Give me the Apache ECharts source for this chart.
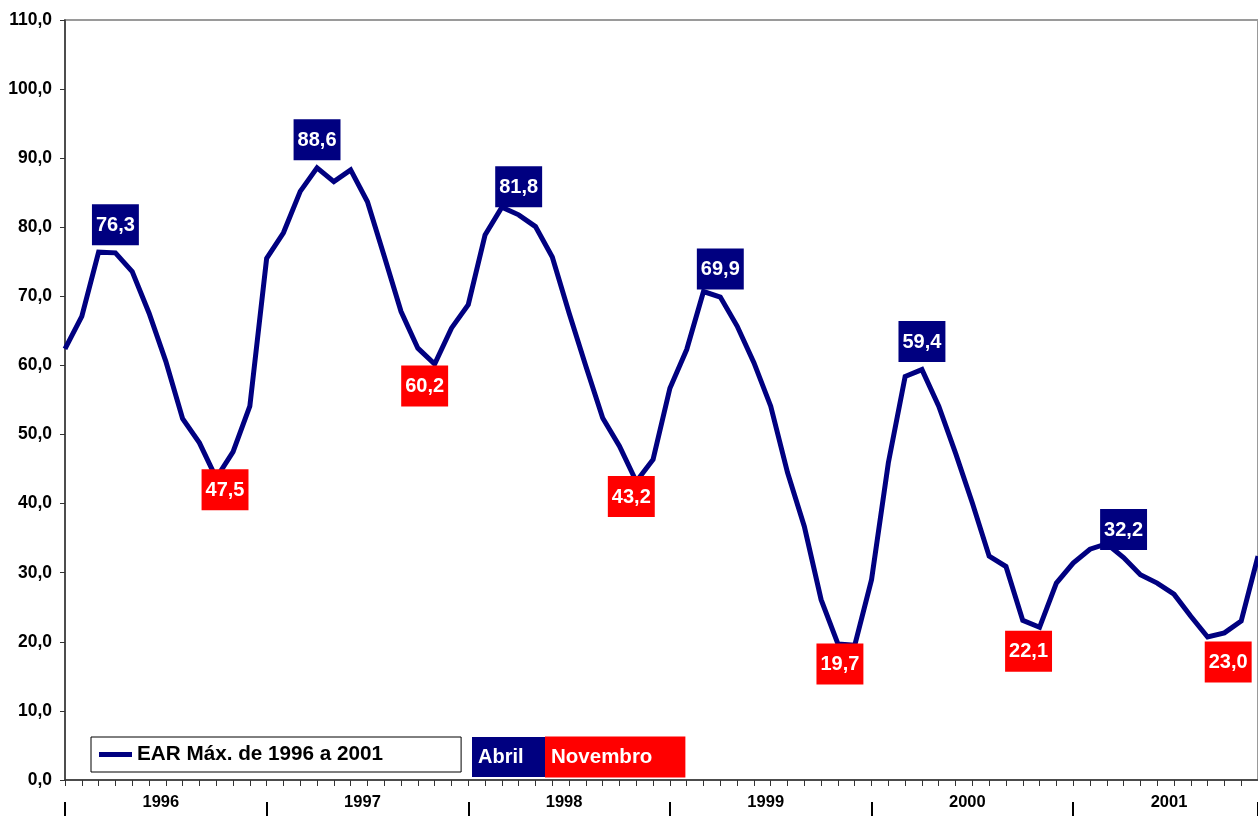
<!DOCTYPE html>
<html>
<head>
<meta charset="utf-8">
<title>EAR Máx. de 1996 a 2001</title>
<script src="https://cdn.jsdelivr.net/npm/echarts@6/dist/echarts.min.js"></script>
<style>
  html, body { margin: 0; padding: 0; background: #fff; }
  #chart { width: 1258px; height: 816px; }
</style>
</head>
<body>
<div id="chart"></div>
<script>
// anos e meses (72 pontos, jan/1996 a dez/2001)
const years = ["1996", "1997", "1998", "1999", "2000", "2001"];
const monthNames = ["jan", "fev", "mar", "abr", "mai", "jun", "jul", "ago", "set", "out", "nov", "dez"];
const categories = [];
years.forEach((y) => monthNames.forEach((m) => categories.push(y + "-" + m)));

// EAR máxima mensal (%)
const earMax = [
  62.4, 67.1, 76.4, 76.3, 73.6, 67.6, 60.6, 52.3, 48.8, 43.7, 47.5, 54.1,
  75.5, 79.2, 85.2, 88.6, 86.6, 88.3, 83.7, 75.8, 67.8, 62.5, 60.2, 65.4,
  68.8, 78.9, 82.9, 81.8, 80.1, 75.7, 67.6, 59.9, 52.4, 48.3, 43.2, 46.4,
  56.7, 62.3, 70.7, 69.9, 65.7, 60.4, 54.1, 44.5, 36.7, 26.1, 19.7, 19.5,
  29.0, 45.9, 58.4, 59.4, 54.1, 47.3, 40.1, 32.4, 30.9, 23.1, 22.1, 28.5,
  31.4, 33.4, 34.2, 32.2, 29.7, 28.5, 26.9, 23.7, 20.7, 21.3, 23.0, 32.4
];

// pontos destacados
const abrilIdx = [3, 15, 27, 39, 51, 63];
const novembroIdx = [10, 22, 34, 46, 58, 70];
// deslocamento manual dos rótulos de novembro [dx, dy] em px
const novembroNudge = [[-8, 17], [-10, 1], [-5, -6], [2, -1], [-11, 3], [-13, 20]];

const seriesName = "EAR Máx. de 1996 a 2001";
const NAVY = "#000080";
const RED = "#ff0000";
const FONT = "Arial, 'Liberation Sans', sans-serif";

const fmt = (v) => Number(v).toFixed(1).replace(".", ",");

const boxLabel = {
  show: true,
  color: "#fff",
  fontFamily: FONT,
  fontSize: 20,
  fontWeight: "bold",
  lineHeight: 22,
  padding: [10, 4, 9, 4],
  formatter: (p) => fmt(p.value),
};

const lineData = earMax.map((v, i) => {
  if (abrilIdx.includes(i)) {
    return { value: v, label: { ...boxLabel, position: "top", distance: 7, backgroundColor: NAVY } };
  }
  if (novembroIdx.includes(i)) {
    return { value: v, label: { ...boxLabel, position: "bottom", distance: 0, backgroundColor: RED } };
  }
  return v;
});

const chart = echarts.init(document.getElementById("chart"));

const option = {
  animation: false,
  backgroundColor: "#fff",
  textStyle: { fontFamily: FONT },
  grid: {
    left: 65,
    right: 0,
    top: 20,
    bottom: 36,
    show: true,
    borderColor: "#9a9a9a",
    borderWidth: 2,
  },
  legend: {
    data: [seriesName],
    left: 91,
    top: 737,
    padding: [7, 78, 7, 8],
    backgroundColor: "#fff",
    borderColor: "#000",
    borderWidth: 1,
    borderRadius: 0,
    icon: "rect",
    itemWidth: 33,
    itemHeight: 5,
    selectedMode: false,
    textStyle: { color: "#000", fontSize: 20.7, fontWeight: "bold", lineHeight: 21, fontFamily: FONT },
  },
  title: [
    {
      text: "Abril",
      left: 472,
      top: 737,
      backgroundColor: NAVY,
      padding: [10, 22, 10, 6],
      textStyle: { color: "#fff", fontSize: 20, fontWeight: "bold", lineHeight: 20, fontFamily: FONT },
    },
    {
      text: "Novembro",
      left: 545,
      top: 737,
      backgroundColor: RED,
      padding: [10, 33, 10, 6],
      textStyle: { color: "#fff", fontSize: 20.5, fontWeight: "bold", lineHeight: 20, fontFamily: FONT },
    },
  ],
  xAxis: [
    {
      type: "category",
      data: categories,
      boundaryGap: false,
      axisLine: { lineStyle: { color: "#333", width: 1.5 } },
      axisTick: { show: true, interval: 0, length: 6, lineStyle: { color: "#333", width: 1 } },
      axisLabel: { show: false },
      splitLine: { show: false },
    },
    {
      // anos
      type: "category",
      data: categories,
      boundaryGap: false,
      position: "bottom",
      offset: 22,
      axisLine: { show: false },
      axisTick: {
        show: true,
        length: 16,
        interval: (i) => i % 12 === 0 || i === categories.length - 1,
        lineStyle: { color: "#000", width: 2 },
      },
      axisLabel: {
        interval: (i) => i % 12 === 6,
        formatter: (v) => v.slice(0, 4),
        margin: 0,
        verticalAlign: "middle",
        padding: [0, 10, 0, 0],
        color: "#000",
        fontSize: 16.5,
        fontWeight: "bold",
        fontFamily: FONT,
      },
      splitLine: { show: false },
    },
  ],
  yAxis: {
    type: "value",
    min: 0,
    max: 110,
    interval: 10,
    axisLine: { show: true, lineStyle: { color: "#333", width: 1.5 } },
    axisTick: { show: true, length: 5, lineStyle: { color: "#333" } },
    axisLabel: {
      formatter: fmt,
      margin: 13,
      color: "#000",
      fontSize: 17.5,
      fontWeight: "bold",
      fontFamily: FONT,
    },
    splitLine: { show: false },
  },
  series: [
    {
      name: seriesName,
      type: "line",
      xAxisIndex: 0,
      data: lineData,
      showSymbol: true,
      symbol: "circle",
      symbolSize: 1,
      itemStyle: { color: NAVY },
      lineStyle: { color: NAVY, width: 5, join: "miter" },
      label: { show: false },
      labelLayout: (p) => {
        const n = novembroIdx.indexOf(p.dataIndex);
        if (n < 0) return { hideOverlap: false };
        return { hideOverlap: false, dx: novembroNudge[n][0], dy: novembroNudge[n][1] };
      },
      z: 3,
    },
  ],
};

chart.setOption(option);
</script>
</body>
</html>
